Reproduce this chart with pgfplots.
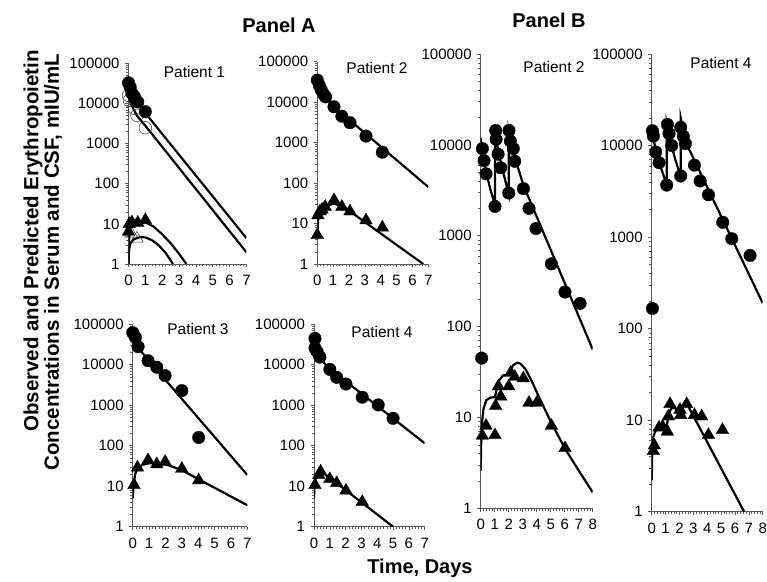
\documentclass[border=0pt]{standalone}
\usepackage{fontspec}
\setmainfont{Liberation Sans}
\usepackage{pgfplots}
\pgfplotsset{compat=1.18}
\pgfkeys{/pgf/number format/assume math mode=true}

\pgfplotsset{
  every axis/.append style={
    /pgfplots/ymode=log,
    /pgfplots/ymin=1, /pgfplots/ymax=100000,
    /pgfplots/xmin=0,
    /pgfplots/axis x line*=bottom,
    /pgfplots/axis y line*=left,
    /pgfplots/axis line style={black!65, line width=0.8pt, -},
    /pgfplots/tick align=outside,
    /pgfplots/ytick={1,10,100,1000,10000,100000},
    /pgfplots/yticklabels={1,10,100,1000,10000,100000},
    /pgfplots/minor ytick={2,3,4,5,6,7,8,9,20,30,40,50,60,70,80,90,200,300,400,500,600,700,800,900,2000,3000,4000,5000,6000,7000,8000,9000,20000,30000,40000,50000,60000,70000,80000,90000},
    /pgfplots/minor x tick num=4,
    /pgfplots/major tick length=3.5pt,
    /pgfplots/minor tick length=2.5pt,
    /pgfplots/major tick style={black!65, line width=0.6pt},
    /pgfplots/minor tick style={black!65, line width=0.5pt},
    /pgfplots/tick label style={font=\fontsize{15}{16}\selectfont},
    /pgfplots/xticklabel style={yshift=-4pt},
    /pgfplots/yticklabel style={xshift=-2pt},
    /pgfplots/clip mode=individual,
    /pgfplots/scale only axis,
  },
  epofit/.style={black, line width=2.2pt, mark=none},
  epocirc/.style={only marks, mark=*, mark size=6.3pt, mark options={fill=black, draw=black, line width=0.3pt}},
  epoocirc/.style={only marks, mark=o, mark size=6.3pt, mark options={draw=black!80, line width=0.5pt}},
  epotri/.style={only marks, mark=triangle*, mark size=7.3pt, mark options={fill=black, draw=black, line width=0.3pt}},
  epootri/.style={only marks, mark=triangle, mark size=7.3pt, mark options={draw=black!80, line width=0.5pt}},
}

\begin{document}
\begin{tikzpicture}
\path[use as bounding box] (0pt,0pt) rectangle (767pt,581pt);

% ---------------- Panel A, Patient 1
\begin{axis}[width=118pt, height=200.5pt, xmax=7, xtick={0,...,7}, at={(128.5pt,317pt)}, anchor=south west]
\addplot[epofit] coordinates {(0,30000) (0.1,22000) (0.25,15000) (0.5,10000) (1,5800) (7,4.4)};
\addplot[epofit] coordinates {(0,15000) (0.1,11000) (0.25,8000) (0.5,5000) (1,2800) (7,1.95)};
\addplot[epofit] coordinates {(0,1) (0.03,4) (0.1,7.5) (0.25,9.5) (0.6,10.5) (1,11) (1.5,8.5) (2,5.5) (2.5,3.3) (3,1.8) (3.43,1)};
\addplot[epofit] coordinates {(0,1) (0.03,2.2) (0.1,3.2) (0.3,4.1) (0.7,4.7) (1,4.6) (1.4,3.9) (1.8,2.9) (2.2,1.9) (2.64,1)};
\addplot[epoocirc] coordinates {(0,16000) (0.05,12000) (0.35,7600) (0.5,5100) (1,2500)};
\addplot[epocirc] coordinates {(0,33000) (0.1,26000) (0.2,18000) (0.35,15000) (0.55,11000) (1,6300)};
\addplot[epootri] coordinates {(0.15,5.8) (0.5,4.3)};
\addplot[epotri] coordinates {(0,6.4) (0.05,10) (0.2,11) (0.55,10.7) (1,12.5)};
\end{axis}

% ---------------- Panel A, Patient 2
\begin{axis}[width=111pt, height=202.3pt, xmax=7, xtick={0,...,7}, at={(317.3pt,317pt)}, anchor=south west]
\addplot[epofit] coordinates {(0,34000) (0.25,20000) (0.5,13500) (1,8000) (7,80)};
\addplot[epofit] coordinates {(0,4) (0.01,6) (0.05,12) (0.15,18) (0.35,23) (0.7,28) (1,31) (1.3,29) (1.7,24) (2.1,19.5) (6.68,1)};
\addplot[epocirc] coordinates {(0,35000) (0.13,26000) (0.25,20000) (0.38,16000) (0.52,13500) (1.05,7700) (1.55,4500) (2.06,3100) (3.07,1450) (4.1,580)};
\addplot[epotri] coordinates {(0,5.2) (0.04,16) (0.17,20) (0.3,22) (0.5,26) (1.05,38) (1.55,26) (2.06,20) (3.07,12) (4.1,8)};
\end{axis}

% ---------------- Panel A, Patient 3
\begin{axis}[width=114.6pt, height=202.4pt, xmax=7, xtick={0,...,7}, at={(132.7pt,54.3pt)}, anchor=south west]
\addplot[epofit] coordinates {(0,45000) (0.3,27000) (1,12500) (7,19)};
\addplot[epofit] coordinates {(0,5) (0.05,10) (0.15,20) (0.3,28) (0.6,34) (1,37) (1.5,37.5) (2,35) (3,25) (4,15) (7,3.4)};
\addplot[epocirc] coordinates {(0,62000) (0.16,48000) (0.33,28000) (0.94,12600) (1.47,8700) (1.98,5400) (3.0,2300) (4.03,160)};
\addplot[epotri] coordinates {(0.08,10.7) (0.29,29) (0.94,44) (1.47,35) (1.98,40) (3.0,27) (4.03,14)};
\end{axis}

% ---------------- Panel A, Patient 4
\begin{axis}[width=110.7pt, height=202.4pt, xmax=7, xtick={0,...,7}, at={(314pt,54.3pt)}, anchor=south west]
\addplot[epofit] coordinates {(0,28000) (0.15,20000) (0.35,15000) (0.7,10500) (1,8000) (7,115)};
\addplot[epofit] coordinates {(0,5) (0.03,10) (0.12,17) (0.3,22) (0.45,23.5) (5,1)};
\addplot[epocirc] coordinates {(0.06,45000) (0.06,26000) (0.2,21000) (0.37,15500) (1.0,7700) (1.43,4900) (2.02,3350) (3.05,1580) (4.06,1020) (5.0,475)};
\addplot[epotri] coordinates {(0.06,10.7) (0.3,19) (0.42,23) (1.0,15) (1.43,12) (2.02,7.8) (3.05,4.1)};
\end{axis}

% ---------------- Panel B, Patient 2
\begin{axis}[width=112pt, height=454.3pt, xmax=8, xtick={0,...,8}, at={(480.7pt,72.7pt)}, anchor=south west]
\addplot[epofit] coordinates {(0,12000) (0.1,8500) (0.38,5000) (0.7,3200) (1.02,2200) (1.02,14500) (1.2,9500) (1.5,5800) (1.8,3800) (2.0,2900) (2.0,14500) (2.2,10500) (2.5,6800) (3.05,3600) (8,56)};
\addplot[epofit] coordinates {(0,2.6) (0.03,5) (0.1,9) (0.2,12.5) (0.4,15.5) (0.7,16.5) (1.02,16.8) (1.15,21) (1.35,26) (1.6,29) (1.85,29.5) (2.0,30) (2.15,34) (2.35,38) (2.6,40) (2.85,39) (3.2,34) (3.6,26) (4,19) (5,9) (6,4.6) (7,2.6) (8,1.5)};
\addplot[epocirc] coordinates {(0.07,45) (0.12,9100) (0.24,6700) (0.38,4800) (1.02,2100) (1.07,14400) (1.1,11500) (1.24,7900) (1.43,5600) (2.0,2950) (2.02,14400) (2.12,11000) (2.33,9100) (2.43,6600) (3.05,3300) (3.45,2000) (3.95,1200) (5.05,490) (6.02,240) (7.1,180)};
\addplot[epotri] coordinates {(0.12,6.3) (0.38,8.1) (1.02,6.4) (1.07,13.4) (1.26,22) (1.43,17) (2.0,22) (2.14,31) (2.43,28) (3.05,27) (3.45,14.5) (4.0,14.5) (5.05,8.1) (6.02,4.6)};
\end{axis}

% ---------------- Panel B, Patient 4
\begin{axis}[width=111pt, height=457.7pt, xmax=8, xtick={0,...,8}, at={(651.7pt,69.3pt)}, anchor=south west]
\addplot[epofit] coordinates {(0,15000) (0.1,12000) (0.5,6800) (1.08,3700) (1.08,17500) (1.3,12000) (1.7,7000) (2.09,4600) (2.09,20000) (2.3,14000) (2.5,10500) (8,190)};
\addplot[epofit] coordinates {(0,2.2) (0.03,4) (0.1,6.5) (0.3,7.8) (0.7,8.2) (1.08,8.5) (1.2,11) (1.4,13.5) (1.7,13.5) (2.09,12) (2.25,14) (2.45,16) (6.66,1)};
\addplot[epocirc] coordinates {(0.05,166) (0.05,14500) (0.12,12700) (0.29,8500) (0.53,6500) (1.08,3700) (1.13,17000) (1.25,13500) (1.44,10000) (2.09,4650) (2.09,15800) (2.28,12600) (2.43,10500) (3.08,6100) (3.49,4100) (4.09,2900) (5.12,1450) (5.77,960) (7.09,630)};
\addplot[epotri] coordinates {(0.12,4.6) (0.19,5.3) (0.53,8.3) (0.79,8.5) (1.13,7.5) (1.2,11) (1.32,15) (2.04,13) (2.09,11.4) (2.52,15) (3.08,11.4) (3.6,11) (4.09,6.9) (5.1,7.8)};
\end{axis}

% ---------------- texts
\node[font=\fontsize{15.5}{16}\selectfont] at (194.5pt,509pt) {Patient 1};
\node[font=\fontsize{15.5}{16}\selectfont] at (377pt,513pt) {Patient 2};
\node[font=\fontsize{15.5}{16}\selectfont] at (198pt,252pt) {Patient 3};
\node[font=\fontsize{15.5}{16}\selectfont] at (382pt,249pt) {Patient 4};
\node[font=\fontsize{15.5}{16}\selectfont] at (554pt,514pt) {Patient 2};
\node[font=\fontsize{15.5}{16}\selectfont] at (721pt,518pt) {Patient 4};
\node[font=\bfseries\fontsize{20}{22}\selectfont] at (279pt,556pt) {Panel A};
\node[font=\bfseries\fontsize{20}{22}\selectfont] at (549pt,561pt) {Panel B};
\node[font=\bfseries\fontsize{20}{22}\selectfont] at (420pt,13pt) {Time, Days};
\node[font=\bfseries\fontsize{20.5}{22}\selectfont, rotate=90] at (33pt,340pt) {Observed and Predicted Erythropoietin};
\node[font=\bfseries\fontsize{20.5}{22}\selectfont, rotate=90] at (53pt,319pt) {Concentrations in Serum and CSF, mIU/mL};
\end{tikzpicture}
\end{document}
